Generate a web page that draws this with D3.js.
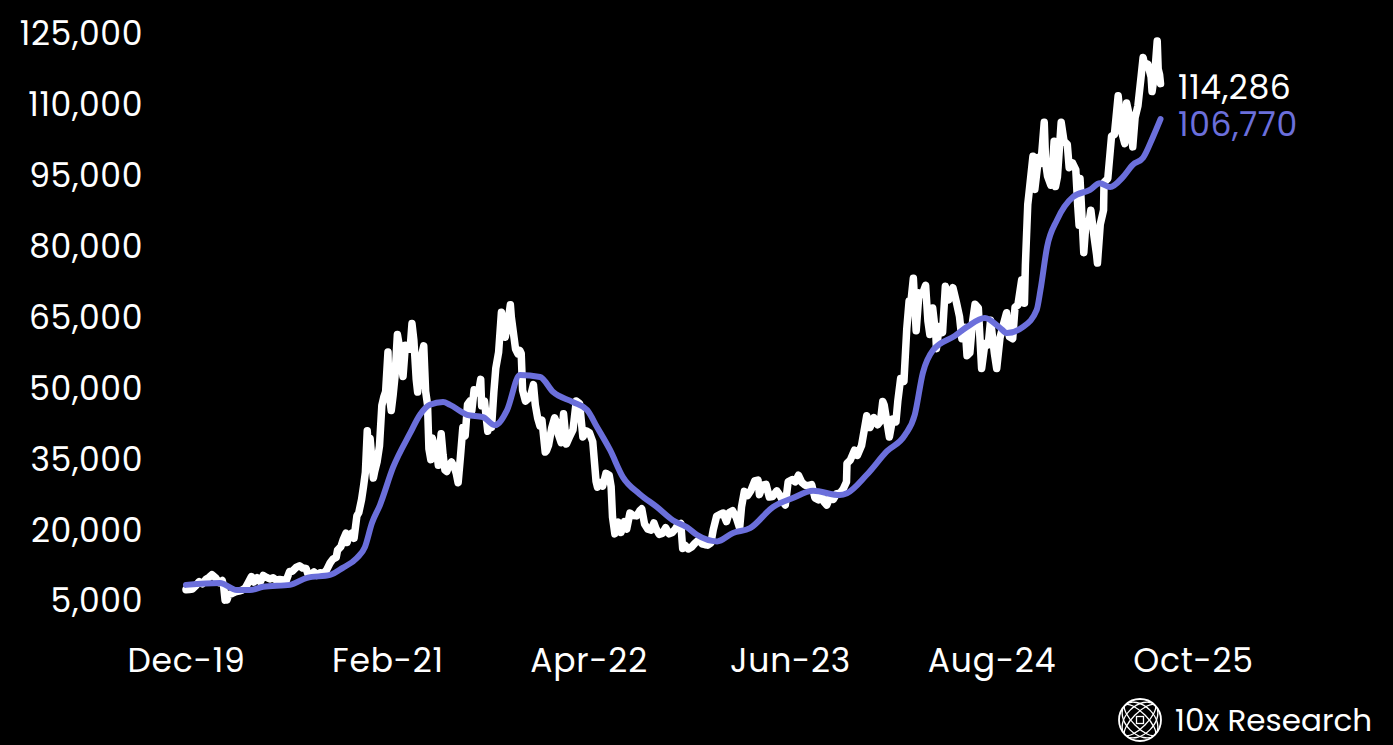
<!DOCTYPE html>
<html>
<head>
<meta charset="utf-8">
<script src="https://cdn.jsdelivr.net/npm/d3@7"></script>
<style>
  html, body { margin: 0; padding: 0; background: #000; }
  svg { display: block; }
  text { font-family: Poppins, Inter, "Open Sans", sans-serif; fill: #fff; }
</style>
</head>
<body>
<svg id="chart" width="1393" height="745"></svg>
<script>
// ---------------- DATA ----------------
const yTickValues = [5000, 20000, 35000, 50000, 65000, 80000, 95000, 110000, 125000];
const xTickDates  = ["2019-12-20", "2021-02-20", "2022-04-23", "2023-06-25", "2024-08-26", "2025-10-28"];
const xTickLabels = ["Dec-19", "Feb-21", "Apr-22", "Jun-23", "Aug-24", "Oct-25"];

// BTC price (white line)
const btc2020 = [
  ["2019-12-20",7190],["2019-12-27",7240],["2020-01-03",7340],["2020-01-10",8030],["2020-01-17",8900],
  ["2020-01-24",8440],["2020-01-31",9350],["2020-02-07",9800],["2020-02-13",10350],["2020-02-21",9690],
  ["2020-02-28",8670],["2020-03-06",9120],["2020-03-09",7900],["2020-03-12",4970],["2020-03-16",5010],
  ["2020-03-20",6190],["2020-03-27",6370],["2020-04-03",6730],["2020-04-10",6870],["2020-04-17",7100],
  ["2020-04-24",7550],["2020-04-30",8660],["2020-05-07",9950],["2020-05-12",8800],["2020-05-19",9730],
  ["2020-05-26",8840],["2020-06-01",10200],["2020-06-08",9780],["2020-06-15",9450],["2020-06-22",9690],
  ["2020-06-29",9180],["2020-07-06",9350],["2020-07-13",9250],["2020-07-20",9160],["2020-07-27",11030],
  ["2020-08-02",11100],["2020-08-10",11900],["2020-08-17",12250],["2020-08-24",11750],["2020-08-31",11680],
  ["2020-09-04",10460],["2020-09-10",10340],["2020-09-17",10940],["2020-09-23",10240],["2020-09-30",10780],
  ["2020-10-07",10600],["2020-10-14",11430],["2020-10-21",12820],["2020-10-27",13650],["2020-11-03",14000],
  ["2020-11-06",15570],["2020-11-13",16300],["2020-11-18",17800],["2020-11-24",19160],["2020-11-26",17150],
  ["2020-12-01",18800],["2020-12-07",19200],["2020-12-11",18060],["2020-12-17",22800],["2020-12-21",23480],
  ["2020-12-27",26300],["2020-12-31",29000]
];
const btc2021 = [
  ["2021-01-04",31970],["2021-01-08",40800],["2021-01-11",35500],["2021-01-14",39200],["2021-01-17",35800],
  ["2021-01-21",30800],["2021-01-24",32300],["2021-01-29",34300],["2021-02-03",37600],["2021-02-08",46200],
  ["2021-02-12",47900],["2021-02-16",49100],["2021-02-21",57500],["2021-02-23",48900],["2021-02-28",45100],
  ["2021-03-04",48400],["2021-03-08",52400],["2021-03-13",61200],["2021-03-17",58900],["2021-03-22",54500],
  ["2021-03-25",52300],["2021-03-30",58900],["2021-04-05",58700],["2021-04-09",58100],["2021-04-13",63500],
  ["2021-04-17",60000],["2021-04-22",51700],["2021-04-25",49000],["2021-04-29",53600],["2021-05-03",56600],
  ["2021-05-08",58800],["2021-05-12",49200],["2021-05-16",46400],["2021-05-19",37000],["2021-05-23",34700],
  ["2021-05-26",39300],["2021-05-31",37300],["2021-06-04",36800],["2021-06-08",33500],["2021-06-14",40200],
  ["2021-06-18",35800],["2021-06-22",32500],["2021-06-26",32200],["2021-07-01",33500],["2021-07-06",34200],
  ["2021-07-12",33100],["2021-07-16",31800],["2021-07-20",29800],["2021-07-25",35400],["2021-07-30",41500],
  ["2021-08-04",39700],["2021-08-09",46400],["2021-08-14",47100],["2021-08-18",45000],["2021-08-23",49500],
  ["2021-08-28",48900],["2021-09-01",48800],["2021-09-06",51700],["2021-09-08",46100],["2021-09-14",47100],
  ["2021-09-21",40700],["2021-09-25",42700],["2021-09-29",41500],["2021-10-04",49100],["2021-10-08",54000],
  ["2021-10-14",57400],["2021-10-20",65900],["2021-10-25",63100],["2021-10-28",60600],["2021-11-02",63300],
  ["2021-11-08",67500],["2021-11-10",64900],["2021-11-16",60400],["2021-11-19",58100],["2021-11-24",57100],
  ["2021-11-28",57800],["2021-12-01",57200],["2021-12-04",49400],["2021-12-10",47100],["2021-12-16",47600],
  ["2021-12-22",48600],["2021-12-27",50600],["2021-12-31",46300]
];
const btc2022 = [
  ["2022-01-05",43500],["2022-01-10",41800],["2022-01-14",43100],["2022-01-21",36300],["2022-01-24",36650],
  ["2022-01-28",37700],["2022-02-04",41500],["2022-02-10",43550],["2022-02-14",42600],["2022-02-18",40000],
  ["2022-02-24",38300],["2022-03-01",44400],["2022-03-07",38000],["2022-03-14",39600],["2022-03-21",41000],
  ["2022-03-28",47100],["2022-04-04",46600],["2022-04-11",39500],["2022-04-18",40800],["2022-04-25",40400],
  ["2022-05-02",38500],["2022-05-09",30100],["2022-05-12",28900],["2022-05-16",29900],["2022-05-23",29100],
  ["2022-05-30",31800],["2022-06-06",31400],["2022-06-10",29000],["2022-06-13",22500],["2022-06-18",19000],
  ["2022-06-25",21500],["2022-07-01",19300],["2022-07-08",21600],["2022-07-13",20000],["2022-07-20",23400],
  ["2022-07-27",22900],["2022-08-03",22800],["2022-08-10",23900],["2022-08-14",24300],["2022-08-20",21100],
  ["2022-08-27",20000],["2022-09-03",19800],["2022-09-09",21300],["2022-09-13",20200],["2022-09-20",18900],
  ["2022-09-27",19100],["2022-10-04",20300],["2022-10-11",19000],["2022-10-18",19300],["2022-10-25",20100],
  ["2022-10-29",20800],["2022-11-05",21200],["2022-11-09",15900],["2022-11-14",16600],["2022-11-21",15800],
  ["2022-11-28",16200],["2022-12-05",17000],["2022-12-14",17800],["2022-12-20",16900],["2022-12-27",16700]
];
const btc2023 = [
  ["2023-01-01",16600],["2023-01-08",17100],["2023-01-13",19900],["2023-01-20",22700],["2023-01-27",23100],
  ["2023-02-03",23400],["2023-02-10",21600],["2023-02-16",23500],["2023-02-23",23900],["2023-03-03",22400],
  ["2023-03-10",20200],["2023-03-14",24700],["2023-03-20",28000],["2023-03-27",27100],["2023-04-03",28200],
  ["2023-04-11",30200],["2023-04-18",30400],["2023-04-21",27300],["2023-04-28",29300],["2023-05-05",29500],
  ["2023-05-12",26800],["2023-05-19",26900],["2023-05-28",28100],["2023-06-04",27100],["2023-06-10",25800],
  ["2023-06-15",25100],["2023-06-21",30000],["2023-06-30",30500],["2023-07-06",30000],["2023-07-13",31400],
  ["2023-07-20",29900],["2023-07-27",29300],["2023-08-03",29200],["2023-08-10",29400],["2023-08-17",26600],
  ["2023-08-24",26200],["2023-08-29",27700],["2023-09-05",25800],["2023-09-11",25100],["2023-09-18",26800],
  ["2023-09-25",26300],["2023-10-02",27500],["2023-10-09",27600],["2023-10-16",28500],["2023-10-23",30000],
  ["2023-10-24",33900],["2023-10-31",34600],["2023-11-09",36700],["2023-11-15",35600],["2023-11-24",37700],
  ["2023-12-05",44000],["2023-12-12",41500],["2023-12-20",43600],["2023-12-28",42100]
];
const btc2024 = [
  ["2024-01-03",42800],["2024-01-08",47000],["2024-01-11",46300],["2024-01-22",39500],["2024-01-29",43300],
  ["2024-02-05",42700],["2024-02-09",47100],["2024-02-15",51900],["2024-02-22",51300],["2024-02-28",62400],
  ["2024-03-04",68300],["2024-03-08",68300],["2024-03-13",73100],["2024-03-19",62000],["2024-03-25",70000],
  ["2024-04-01",69700],["2024-04-08",71600],["2024-04-13",64000],["2024-04-17",61200],["2024-04-23",66800],
  ["2024-04-30",60600],["2024-05-01",58200],["2024-05-07",62900],["2024-05-14",61600],["2024-05-20",71400],
  ["2024-05-27",68500],["2024-06-05",71100],["2024-06-12",68200],["2024-06-19",65000],["2024-06-24",60300],
  ["2024-07-01",62700],["2024-07-05",56700],["2024-07-11",57300],["2024-07-17",64100],["2024-07-22",67600],
  ["2024-07-29",66800],["2024-08-05",54000],["2024-08-12",59300],["2024-08-19",59000],["2024-08-24",64200],
  ["2024-09-01",57300],["2024-09-06",54000],["2024-09-13",60500],["2024-09-20",63200],["2024-09-27",65800],
  ["2024-10-03",60700],["2024-10-10",60300],["2024-10-15",67000],["2024-10-21",67400],["2024-10-29",72700],
  ["2024-11-04",67800],["2024-11-06",76000],["2024-11-11",88700],["2024-11-13",90500],["2024-11-22",98900],
  ["2024-11-26",91900],["2024-12-04",98700],["2024-12-09",97400],["2024-12-16",106100],["2024-12-19",97500],
  ["2024-12-23",94700],["2024-12-30",92800]
];
const btc2025 = [
  ["2025-01-01",94400],["2025-01-06",102100],["2025-01-09",92500],["2025-01-13",94500],["2025-01-21",106100],
  ["2025-01-27",102100],["2025-02-03",101400],["2025-02-07",96500],["2025-02-14",97500],["2025-02-21",96100],
  ["2025-02-25",88700],["2025-02-28",84300],["2025-03-02",94200],["2025-03-10",78500],["2025-03-14",84000],
  ["2025-03-20",84200],["2025-03-25",87500],["2025-03-31",82500],["2025-04-06",78200],["2025-04-08",76300],
  ["2025-04-14",84500],["2025-04-21",87500],["2025-04-22",93400],["2025-04-30",94200],["2025-05-08",103200],
  ["2025-05-14",103500],["2025-05-22",111700],["2025-05-30",103900],["2025-06-05",101600],["2025-06-09",110200],
  ["2025-06-16",107000],["2025-06-22",100900],["2025-06-27",107100],["2025-07-03",109600],["2025-07-10",116000],
  ["2025-07-14",119800],["2025-07-18",117900],["2025-07-24",118400],["2025-07-31",115700],["2025-08-02",112600],
  ["2025-08-08",116700],["2025-08-13",123300],["2025-08-15",117400],["2025-08-18",116200],["2025-08-20",114286]
];

// Moving average (blue line)
const maA = [
  ["2019-12-20",8200],["2020-03-01",8600],["2020-04-06",7100],["2020-05-04",7100],["2020-06-01",7800],
  ["2020-07-28",8200],["2020-09-02",9700],["2020-10-21",10300],["2020-11-17",11800],["2020-12-17",13900],
  ["2021-01-03",16200],["2021-01-18",21300],["2021-02-04",25100],["2021-03-04",33100],["2021-04-09",40300],
  ["2021-04-30",44200],["2021-05-21",46300],["2021-06-18",46900],["2021-07-03",46300],["2021-08-08",44200],
  ["2021-09-11",43700],["2021-10-06",42000],["2021-11-01",45200],["2021-11-28",52600],["2022-01-10",52200],
  ["2022-02-07",49000],["2022-03-21",46900],["2022-04-20",45200],["2022-05-11",41600],["2022-06-08",36700],
  ["2022-07-05",31000],["2022-08-10",27400],["2022-09-15",24700],["2022-10-19",21900],["2022-11-18",20400],
  ["2022-12-09",18800]
];
const maB = [
  ["2023-01-21",17400],["2023-02-24",19200],["2023-04-01",20200],["2023-05-20",24700],["2023-07-01",26600],
  ["2023-08-13",28100],["2023-10-09",27200],["2023-10-24",27600],["2023-12-05",31500],["2024-01-17",36500],
  ["2024-02-24",39900],["2024-03-16",44200],["2024-04-02",53000],["2024-04-24",57900],["2024-06-09",60900],
  ["2024-07-05",62800],["2024-08-12",64700],["2024-09-13",62600],["2024-09-28",61500],["2024-11-01",62800],
  ["2024-11-30",66400],["2024-12-08",70600],["2024-12-22",79700],["2025-01-12",85400],["2025-02-15",90300],
  ["2025-03-23",91800],["2025-04-13",93200],["2025-05-05",92400],["2025-06-01",94500],["2025-06-22",97100],
  ["2025-07-14",98600],["2025-08-04",103000],["2025-08-20",106770]
];

const lastPriceLabel = "114,286";
const lastMaLabel = "106,770";
const brandLabel = "10x Research";

// ---------------- DRAW ----------------
const parse = d3.timeParse("%Y-%m-%d");
const price = [...btc2020, ...btc2021, ...btc2022, ...btc2023, ...btc2024, ...btc2025]
  .map(([d, v]) => ({ date: parse(d), value: v }));
const ma = [...maA, ...maB].map(([d, v]) => ({ date: parse(d), value: v }));

const BLUE = "#6b6fdb";
const svg = d3.select("#chart");
svg.append("rect").attr("width", 1393).attr("height", 745).attr("fill", "#000");

const x = d3.scaleTime()
  .domain([parse(xTickDates[0]), parse(xTickDates[xTickDates.length - 1])])
  .range([186, 1193]);
const y = d3.scaleLinear().domain([5000, 125000]).range([600, 33]);

// Y axis
const yAxis = d3.axisLeft(y).tickValues(yTickValues).tickFormat(d3.format(",")).tickSize(0).tickPadding(0);
const gy = svg.append("g").attr("transform", "translate(143,0)").call(yAxis);
gy.select(".domain").remove();
gy.selectAll("text").attr("fill", "#fff").style("font-size", "33px").style("letter-spacing", "0.6px")
  .attr("dy", "0.36em").attr("text-anchor", "end");

// X axis
const xAxis = d3.axisBottom(x).tickValues(xTickDates.map(parse))
  .tickFormat((d, i) => xTickLabels[i]).tickSize(0).tickPadding(0);
const gx = svg.append("g").attr("transform", "translate(0,660)").call(xAxis);
gx.select(".domain").remove();
gx.selectAll("text").attr("fill", "#fff").style("font-size", "33px").style("letter-spacing", "0.8px")
  .attr("dy", "0.36em");

// Lines
const line = d3.line().x(d => x(d.date)).y(d => y(d.value));
svg.append("path").datum(price).attr("d", line)
  .attr("fill", "none").attr("stroke", "#fff").attr("stroke-width", 7.5)
  .attr("stroke-linejoin", "round").attr("stroke-linecap", "round");

const maLine = d3.line().curve(d3.curveMonotoneX).x(d => x(d.date)).y(d => y(d.value));
svg.append("path").datum(ma).attr("d", maLine)
  .attr("fill", "none").attr("stroke", BLUE).attr("stroke-width", 6)
  .attr("stroke-linejoin", "round").attr("stroke-linecap", "round");

// End labels
svg.append("text").attr("x", 1178).attr("y", 87).attr("dy", "0.36em")
  .style("font-size", "33px").style("letter-spacing", "0.6px").attr("fill", "#fff").text(lastPriceLabel);
svg.append("text").attr("x", 1178).attr("y", 124).attr("dy", "0.36em")
  .style("font-size", "33px").style("letter-spacing", "0.6px").style("fill", BLUE).text(lastMaLabel);

// Brand logo
const logo = svg.append("g").attr("transform", "translate(1140,720)");
logo.append("clipPath").attr("id", "lc").append("circle").attr("r", 21);
const lg = logo.append("g").attr("clip-path", "url(#lc)")
  .attr("fill", "none").attr("stroke", "#fff").attr("stroke-width", 1.3);
[-45, 45].forEach(rot => {
  [7, 14].forEach(ry => {
    lg.append("ellipse").attr("rx", 21).attr("ry", ry).attr("transform", `rotate(${rot})`);
  });
});
lg.append("rect").attr("x", -3.5).attr("y", -3.5).attr("width", 7).attr("height", 7);
logo.append("circle").attr("r", 21).attr("fill", "none").attr("stroke", "#fff").attr("stroke-width", 1.8);
svg.append("text").attr("x", 1175).attr("y", 720).attr("dy", "0.36em")
  .style("font-size", "31px").attr("fill", "#fff").text(brandLabel);
</script>
</body>
</html>
